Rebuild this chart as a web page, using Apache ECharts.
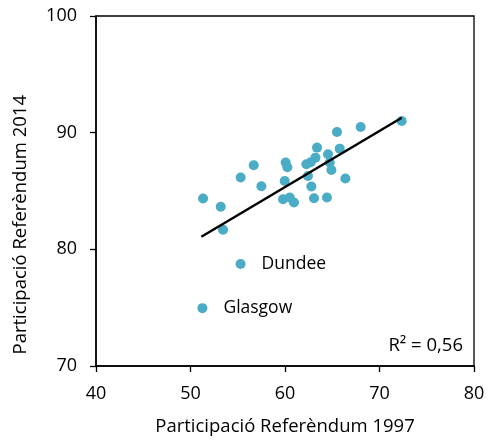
<!DOCTYPE html>
<html>
<head>
<meta charset="utf-8">
<script src="https://cdn.jsdelivr.net/npm/echarts@6/dist/echarts.min.js"></script>
<style>
html,body{margin:0;padding:0;background:#fff;}
#chart{width:488px;height:441px;}
</style>
</head>
<body>
<div id="chart"></div>
<script>
// Participació 1997 (x) vs 2014 (y)
var turnout1997 = [51.33, 53.2, 53.44, 55.31, 56.69, 57.5, 59.79, 60.5, 60.95, 59.97, 60.07, 60.25,
  62.26, 62.72, 63.22, 63.39, 62.43, 62.79, 63.07, 64.44, 64.55, 64.73, 64.91, 65.79, 65.5, 66.39, 68.01, 72.35];
var turnout2014 = [84.36, 83.65, 81.68, 86.15, 87.2, 85.4, 84.3, 84.44, 84.02, 85.86, 87.44, 87.03,
  87.29, 87.46, 87.86, 88.72, 86.29, 85.38, 84.38, 84.44, 88.15, 87.44, 86.8, 88.63, 90.05, 86.07, 90.48, 91.0];
var labelledNames = ['Dundee', 'Glasgow'];
var labelled1997 = [55.3, 51.26];
var labelled2014 = [78.75, 74.96];
var trendX = [51.15, 72.35];
var trendY = [81.08, 91.28];
var xTicks = [40, 50, 60, 70, 80];
var yTicks = [70, 80, 90, 100];
var r2Text = 'R² = 0,56';
var xTitle = 'Participació Referèndum 1997';
var yTitle = 'Participació Referèndum 2014';

var pts = turnout1997.map(function (x, i) { return [x, turnout2014[i]]; });
var lab = labelled1997.map(function (x, i) { return { value: [x, labelled2014[i]], name: labelledNames[i] }; });
var trend = trendX.map(function (x, i) { return [x, trendY[i]]; });

var FONT = 'Open Sans';
var chart = echarts.init(document.getElementById('chart'));
chart.setOption({
  animation: false,
  backgroundColor: '#fff',
  textStyle: { fontFamily: FONT },
  grid: { left: 96, right: 14, top: 16, bottom: 73, show: true, borderColor: '#000', borderWidth: 1.3 },
  xAxis: {
    type: 'value', min: xTicks[0], max: xTicks[xTicks.length - 1], interval: 10,
    name: xTitle, nameLocation: 'middle', nameGap: 51,
    nameTextStyle: { fontFamily: FONT, fontSize: 18.5, color: '#000' },
    axisLine: { show: true, lineStyle: { color: '#000', width: 1.5 } },
    axisTick: { show: true, inside: false, length: 6, lineStyle: { color: '#000', width: 1.3 } },
    axisLabel: { fontFamily: FONT, fontSize: 18, color: '#000', margin: 19 },
    splitLine: { show: false }
  },
  yAxis: {
    type: 'value', min: yTicks[0], max: yTicks[yTicks.length - 1], interval: 10,
    axisLine: { show: true, lineStyle: { color: '#000', width: 1.5 } },
    axisTick: { show: true, inside: false, length: 6, lineStyle: { color: '#000', width: 1.3 } },
    axisLabel: { fontFamily: FONT, fontSize: 18, color: '#000', margin: 19 },
    splitLine: { show: false }
  },
  series: [
    {
      type: 'scatter', data: pts, symbolSize: 10,
      itemStyle: { color: '#4BACC6', opacity: 1 }, z: 2
    },
    {
      type: 'scatter', data: lab, symbolSize: 10,
      itemStyle: { color: '#4BACC6', opacity: 1 },
      label: { show: true, position: 'right', distance: 16, formatter: '{b}',
        fontFamily: FONT, fontSize: 17.5, color: '#000' }
    },
    {
      type: 'line', data: trend, symbol: 'none', z: 3,
      lineStyle: { color: '#000', width: 2.5 }
    }
  ],
  graphic: [
    { type: 'text', left: 11, top: 95, rotation: Math.PI / 2,
      style: { text: yTitle, fontFamily: FONT, fontSize: 18.5, fill: '#000' } },
    { type: 'text', right: 25, top: 336,
      style: { text: r2Text, fontFamily: FONT, fontSize: 18.5, fill: '#000' } }
  ]
});
</script>
</body>
</html>
